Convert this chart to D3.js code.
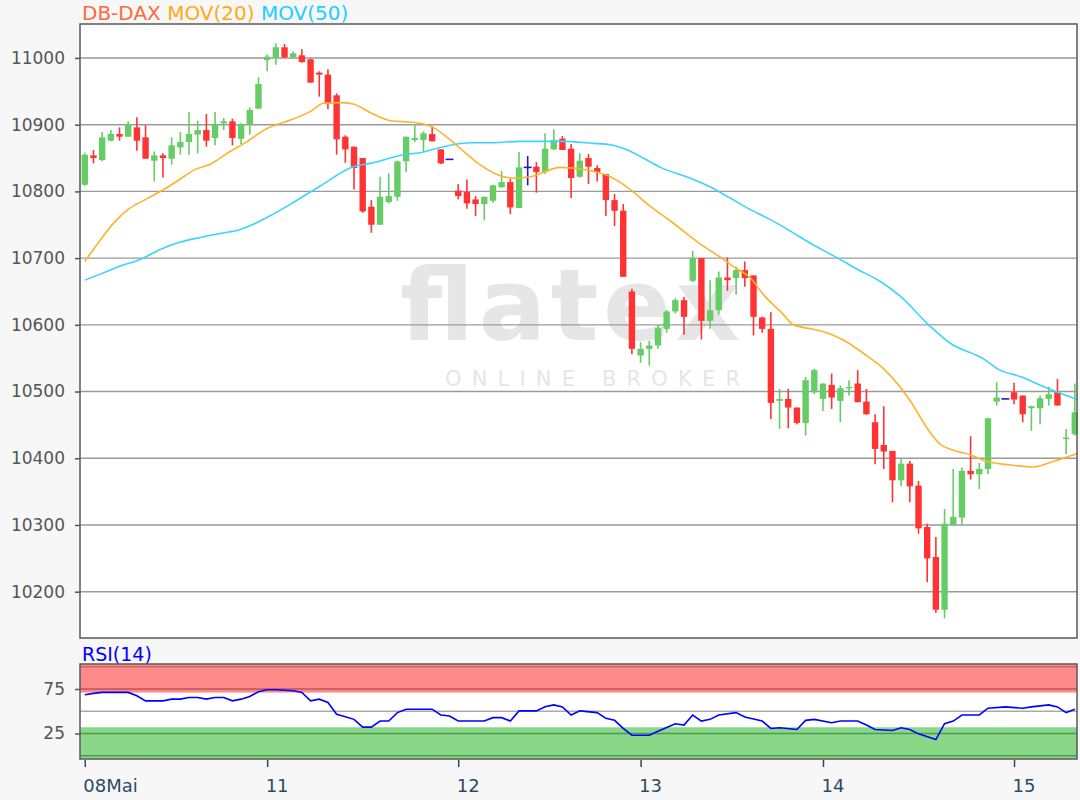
<!DOCTYPE html>
<html>
<head>
<meta charset="utf-8">
<script src="https://cdn.jsdelivr.net/npm/d3@7/dist/d3.min.js"></script>
<style>
  body { margin: 0; background: #f7f7f7; }
  svg { display: block; font-family: "DejaVu Sans", sans-serif; }
</style>
</head>
<body>
<div class="plot"></div>
<script>
// OHLC per bar (bar 0 = first bar of 08 Mai)
const opens = [10810,10854,10847,10876,10886,10882,10896,10881,10846,10854,
  10849,10866,10874,10885,10892,10880,10902,10905,10879,10900,
  10924,10997,11001,11016,11001,11004,10998,10978,10975,10944,
  10882,10867,10850,10777,10750,10784,10792,10845,10877,10877,
  10886,10863,10848,10801,10799,10788,10781,10786,10806,10814,
  10775,10836,10837,10829,10863,10879,10864,10822,10850,10835,
  10826,10787,10771,10650,10554,10564,10569,10594,10620,10637,
  10666,10700,10606,10622,10671,10670,10682,10674,10611,10594,
  10486,10489,10476,10453,10499,10489,10510,10486,10505,10512,
  10485,10454,10420,10411,10367,10392,10359,10297,10252,10173,
  10300,10311,10381,10376,10384,10485,10489,10499,10494,10475,
  10475,10489,10499,10429,10436];
const highs = [10858,10862,10889,10892,10896,10905,10911,10899,10860,10857,
  10881,10889,10919,10906,10916,10919,10910,10909,10902,10926,
  10971,11005,11022,11021,11010,11013,10999,10980,10983,10947,
  10884,10867,10850,10787,10822,10827,10846,10882,10901,10890,
  10898,10863,10848,10811,10818,10793,10792,10810,10831,10819,
  10859,10853,10844,10887,10893,10883,10871,10857,10856,10839,
  10826,10796,10781,10654,10574,10576,10600,10622,10640,10642,
  10711,10700,10667,10680,10701,10687,10695,10674,10612,10619,
  10504,10504,10476,10522,10534,10512,10527,10509,10517,10532,
  10504,10466,10478,10411,10399,10396,10366,10302,10282,10324,
  10384,10386,10433,10393,10460,10514,10489,10513,10494,10479,
  10494,10507,10519,10444,10512];
const lows = [10808,10842,10845,10875,10876,10882,10861,10849,10815,10821,
  10840,10855,10855,10857,10867,10869,10892,10869,10871,10885,
  10924,10980,10990,11000,11001,10993,10963,10942,10923,10855,
  10843,10803,10768,10738,10750,10782,10786,10829,10874,10860,
  10875,10841,10848,10788,10774,10763,10757,10783,10806,10766,
  10775,10809,10798,10826,10862,10862,10790,10821,10811,10815,
  10763,10748,10672,10556,10543,10539,10564,10588,10617,10585,
  10664,10578,10594,10615,10651,10645,10657,10584,10588,10459,
  10444,10445,10451,10434,10496,10471,10474,10454,10494,10484,
  10465,10391,10384,10334,10358,10334,10287,10214,10168,10160,
  10299,10299,10368,10354,10376,10479,10489,10481,10454,10441,
  10451,10479,10479,10406,10434];
const closes = [10855,10850,10881,10886,10882,10901,10876,10849,10854,10850,
  10869,10874,10886,10892,10876,10901,10905,10880,10901,10922,
  10961,11002,11016,11001,11007,10994,10963,10975,10932,10878,
  10863,10835,10770,10750,10792,10793,10845,10882,10880,10887,
  10875,10842,10848,10793,10782,10781,10792,10809,10814,10776,
  10836,10836,10829,10864,10877,10862,10820,10846,10837,10829,
  10787,10771,10672,10564,10564,10569,10595,10620,10637,10612,
  10700,10606,10622,10671,10667,10682,10670,10612,10594,10483,
  10489,10476,10453,10517,10532,10512,10491,10505,10507,10484,
  10466,10414,10410,10367,10392,10358,10295,10250,10173,10302,
  10312,10381,10376,10384,10460,10491,10489,10488,10466,10478,
  10490,10496,10479,10431,10469];

// moving averages, sampled along the drawn lines (bar position, value)
const ma20Idx = [0,1,3.5,5,7,9,10.7,12.7,14.5,16.5,18.5,20.8,22.3,23.7,26,27.5,29.4,30.9,32.9,35.2,38.3,40.1,42.1,43.8,45.5,48.2,49.6,51.3,54.8,57.9,60.5,62.8,64.8,67.4,70.9,73.2,75.1,76.6,78.1,80.4,81.6,83.6,85,87.4,89.7,92,95.1,97,98.5,100,102,103.9,106.6,109.2,111.5,113.8,114.3];
const ma20Val = [10695,10713,10755,10773,10788,10802,10816,10833,10841,10858,10873,10893,10901,10907,10920,10932,10933,10931,10918,10906,10903,10896,10877,10858,10840,10822,10820,10822,10836,10832,10822,10803,10781,10756,10721,10701,10684,10671,10646,10616,10600,10594,10590,10577,10557,10534,10485,10445,10421,10412,10405,10395,10390,10387,10395,10405,10407];
const ma50Idx = [0,1.8,4.1,6.4,8.7,11,13.3,15.6,17.9,19.6,21.3,23.7,27.1,30.9,32.9,36.7,38.6,41.3,44.4,47,50.1,54.8,58.6,60.5,62.5,64.3,66.3,69.7,72,74.3,76.6,78.9,81.3,83.6,86.7,89,91.6,93.9,97.4,99.7,103.5,105.1,107.8,110.1,112.4,114.3];
const ma50Val = [10667,10676,10688,10698,10713,10724,10731,10737,10743,10752,10763,10781,10808,10837,10842,10855,10858,10867,10873,10873,10875,10875,10872,10870,10862,10850,10836,10820,10807,10790,10773,10758,10740,10722,10700,10683,10665,10643,10597,10572,10549,10534,10522,10509,10497,10488];

// RSI(14), sampled along the drawn line
const rsiIdx = [0,1,2,5,6,7,9,10,11,12,13,14,15,16,17,18,19,20,21,22,24,25,26,27,28,29,30,31,32,33,34,35,36,37,40,41,42,43,46,47,48,49,50,52,53,54,55,56,57,59,60,61,62,63,65,66,68,69,70,71,72,73,75,76,78,79,80,82,83,84,86,87,89,90,91,93,94,95,96,98,99,100,101,103,104,106,108,109,111,112,113,114];
const rsiVal = [68.6,70.1,71.2,71.2,67.4,61.7,61.7,63.6,63.6,65.5,65.5,63.6,65.5,65.5,61.7,63.6,66.7,72,74.2,74.2,73.1,71.2,61.7,63.6,59.8,46.6,43.9,40.9,32.2,32.2,39,39,48.5,52.3,52.3,45.8,44.7,39,39,42.8,42.8,39,50.4,50.4,55,57.2,54.9,45.8,50.4,48.5,42,39.8,30.7,23.1,23.1,27.6,36,34.5,45.8,39,40.9,45.8,48.5,43.6,39,30.7,31.4,29.5,39.8,40.9,37.1,39,39,34.5,29.5,28.4,31.4,29.5,24.6,18.2,36,39,45.8,45.8,53.4,54.9,53.4,54.9,57.2,54.9,48.5,52.3];

// axis ticks
const priceTicks = [10200,10300,10400,10500,10600,10700,10800,10900,11000];
const rsiTicks = [25, 75];
const dayIdx = [0, 21, 43, 64, 85, 107];
const dayLabels = ["08Mai", "11", "12", "13", "14", "15"];

const W = 1080, H = 800;
const plot = {left: 80, right: 1077, top: 24, bottom: 638};
const rsiBox = {top: 664, bottom: 759};

const svg = d3.select(".plot")
    .append("svg")
        .attr("width", W)
        .attr("height", H);

svg.append("rect").attr("width", W).attr("height", H).attr("fill", "#f7f7f7");

const bars = opens.map((o, i) => ({i: i, o: o, h: highs[i], l: lows[i], c: closes[i]}));

// scales
const x = d3.scaleLinear().domain([-0.55, 114.25]).range([plot.left, plot.right]);
const y = d3.scaleLinear().domain([10130.6, 11050.9]).range([plot.bottom, plot.top]);
const yr = d3.scaleLinear().domain([-3.65, 103.1]).range([rsiBox.bottom, rsiBox.top]);

// main panel background
svg.append("rect")
    .attr("x", plot.left).attr("y", plot.top)
    .attr("width", plot.right - plot.left).attr("height", plot.bottom - plot.top)
    .attr("fill", "#ffffff");

// watermark
svg.append("text")
    .attr("x", 400).attr("y", 340)
    .attr("textLength", 340)
    .style("font-size", "100px")
    .style("font-weight", "bold")
    .attr("fill", "#e6e6e6")
    .text("flatex");
svg.append("text")
    .attr("x", 445).attr("y", 386)
    .attr("textLength", 295)
    .style("font-size", "21px")
    .attr("fill", "#e6e6e6")
    .text("ONLINE BROKER");

// price grid + y axis
const yAxis = svg.append("g")
    .attr("transform", "translate(" + plot.left + ",0)")
    .call(d3.axisLeft(y).tickValues(priceTicks).tickSize(5).tickPadding(10).tickFormat(d3.format("d")));
yAxis.select(".domain").remove();
yAxis.selectAll("line").attr("stroke", "#555").attr("stroke-width", 1.5);
yAxis.selectAll("text").attr("fill", "#555").style("font-size", "17px").style("font-family", "DejaVu Sans");

svg.append("g").selectAll("line")
    .data(priceTicks)
    .enter()
    .append("line")
        .attr("x1", plot.left).attr("x2", plot.right)
        .attr("y1", d => y(d)).attr("y2", d => y(d))
        .attr("stroke", "#9a9a9a")
        .attr("stroke-width", 1.4);

// candles
const colorOf = d => d.c > d.o ? "#66cc66" : (d.c < d.o ? "#ff3333" : "#3311cc");
const candles = svg.append("g");
candles.selectAll("line.wick")
    .data(bars)
    .enter()
    .append("line")
        .attr("class", "wick")
        .attr("x1", d => x(d.i)).attr("x2", d => x(d.i))
        .attr("y1", d => y(d.h)).attr("y2", d => y(d.l))
        .attr("stroke", colorOf)
        .attr("stroke-width", 1.6);
candles.selectAll("rect.body")
    .data(bars.filter(d => d.c !== d.o))
    .enter()
    .append("rect")
        .attr("class", "body")
        .attr("x", d => x(d.i) - 3.2)
        .attr("width", 6.4)
        .attr("y", d => y(Math.max(d.o, d.c)))
        .attr("height", d => Math.max(1.5, Math.abs(y(d.o) - y(d.c))))
        .attr("fill", colorOf);
candles.selectAll("line.doji")
    .data(bars.filter(d => d.c === d.o))
    .enter()
    .append("line")
        .attr("class", "doji")
        .attr("x1", d => x(d.i) - 4).attr("x2", d => x(d.i) + 4)
        .attr("y1", d => y(d.o)).attr("y2", d => y(d.o))
        .attr("stroke", "#3311cc")
        .attr("stroke-width", 1.6);

// moving averages
const maLine = d3.line().x(d => x(d[0])).y(d => y(d[1])).curve(d3.curveMonotoneX);
svg.append("path")
    .datum(ma50Idx.map((v, i) => [v, ma50Val[i]]))
    .attr("d", maLine)
    .attr("fill", "none")
    .attr("stroke", "#3ad4ff")
    .attr("stroke-width", 1.6);
svg.append("path")
    .datum(ma20Idx.map((v, i) => [v, ma20Val[i]]))
    .attr("d", maLine)
    .attr("fill", "none")
    .attr("stroke", "#ffb22a")
    .attr("stroke-width", 1.6);

// main border
svg.append("rect")
    .attr("x", plot.left).attr("y", plot.top)
    .attr("width", plot.right - plot.left).attr("height", plot.bottom - plot.top)
    .attr("fill", "none")
    .attr("stroke", "#5a5a5a")
    .attr("stroke-width", 1.5);

// legend / title
const title = svg.append("text")
    .attr("x", 82).attr("y", 20)
    .style("font-size", "20px");
title.append("tspan").attr("fill", "#ff6a3d").text("DB-DAX ");
title.append("tspan").attr("fill", "#ffaa11").text("MOV(20) ");
title.append("tspan").attr("fill", "#22ccff").text("MOV(50)");

// RSI panel
svg.append("rect")
    .attr("x", plot.left).attr("y", rsiBox.top)
    .attr("width", plot.right - plot.left).attr("height", rsiBox.bottom - rsiBox.top)
    .attr("fill", "#ffffff");
svg.append("rect")
    .attr("x", plot.left).attr("y", rsiBox.top)
    .attr("width", plot.right - plot.left).attr("height", yr(71) - rsiBox.top)
    .attr("fill", "#ff8a8a");
svg.append("rect")
    .attr("x", plot.left).attr("y", yr(32))
    .attr("width", plot.right - plot.left).attr("height", rsiBox.bottom - yr(32))
    .attr("fill", "#88d888");

const rsiLines = [[100, "#cc6666"], [75, "#bb5555"], [50, "#aaaaaa"], [25, "#4f9a4f"], [0, "#4f9a4f"]];
svg.append("g").selectAll("line")
    .data(rsiLines)
    .enter()
    .append("line")
        .attr("x1", plot.left).attr("x2", plot.right)
        .attr("y1", d => yr(d[0])).attr("y2", d => yr(d[0]))
        .attr("stroke", d => d[1])
        .attr("stroke-width", 1.3);

const rAxis = svg.append("g")
    .attr("transform", "translate(" + plot.left + ",0)")
    .call(d3.axisLeft(yr).tickValues(rsiTicks).tickSize(5).tickPadding(10));
rAxis.select(".domain").remove();
rAxis.selectAll("line").attr("stroke", "#555").attr("stroke-width", 1.5);
rAxis.selectAll("text").attr("fill", "#555").style("font-size", "17px").style("font-family", "DejaVu Sans");

svg.append("path")
    .datum(rsiIdx.map((v, i) => [v, rsiVal[i]]))
    .attr("d", d3.line().x(d => x(d[0])).y(d => yr(d[1])))
    .attr("fill", "none")
    .attr("stroke", "#0000ff")
    .attr("stroke-width", 1.6);

svg.append("rect")
    .attr("x", plot.left).attr("y", rsiBox.top)
    .attr("width", plot.right - plot.left).attr("height", rsiBox.bottom - rsiBox.top)
    .attr("fill", "none")
    .attr("stroke", "#5a5a5a")
    .attr("stroke-width", 1.5);

svg.append("text")
    .attr("x", 82).attr("y", 661)
    .style("font-size", "19px")
    .attr("fill", "#0000ff")
    .text("RSI(14)");

// x axis (days)
const xAxis = svg.append("g")
    .attr("transform", "translate(0," + (rsiBox.bottom + 1) + ")")
    .call(d3.axisBottom(x).tickValues(dayIdx).tickSize(7).tickPadding(12).tickFormat((d, i) => dayLabels[i]));
xAxis.select(".domain").remove();
xAxis.selectAll("line").attr("stroke", "#2c4a66").attr("stroke-width", 1.5);
xAxis.selectAll("text")
    .attr("fill", "#2c4a66")
    .attr("text-anchor", "start")
    .attr("dx", "-2")
    .style("font-size", "18px")
    .style("font-family", "DejaVu Sans");
</script>
</body>
</html>
